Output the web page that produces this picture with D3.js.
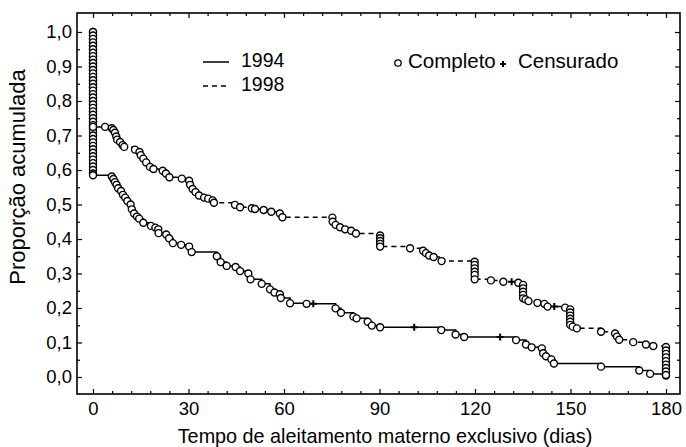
<html>
<head>
<meta charset="utf-8">
<script src="https://d3js.org/d3.v7.min.js"></script>
<style>
  body { margin: 0; background: #fff; }
  text { font-family: "Liberation Sans", Arial, sans-serif; fill: #000; }
</style>
</head>
<body>
<svg class="chart" width="686" height="447"></svg>
<script>
// ticks
var xTicks = [0, 30, 60, 90, 120, 150, 180];
var xMinor = [6, 12, 18, 24, 36, 42, 48, 54, 66, 72, 78, 84, 96, 102, 108, 114, 126, 132, 138, 144, 156, 162, 168, 174];
var yTicks = [0, 0.1, 0.2, 0.3, 0.4, 0.5, 0.6, 0.7, 0.8, 0.9, 1.0];
var yMinor = [0.05, 0.15, 0.25, 0.35, 0.45, 0.55, 0.65, 0.75, 0.85, 0.95];

// 1994 - stack of events at day 0
var zero94 = [1.00, 0.99, 0.98, 0.97, 0.96, 0.95, 0.94, 0.93, 0.92, 0.91, 0.90, 0.89, 0.88, 0.87,
  0.86, 0.85, 0.84, 0.83, 0.82, 0.81, 0.80, 0.79, 0.78, 0.77, 0.76, 0.75, 0.74, 0.73, 0.72, 0.71,
  0.70, 0.69, 0.68, 0.67, 0.66, 0.65, 0.64, 0.63, 0.62, 0.61, 0.60, 0.59, 0.585];
var tempo94 = [5.9, 6.4, 6.9, 7.4, 7.9, 8.8, 9.4, 10.1, 10.8, 11.8, 12.2, 12.9, 13.8, 14.5, 15.8,
  18.2, 19.6, 20.5, 20.6, 23.0, 23.9, 25.1, 27.7, 30.2, 31.0, 38.9, 40.1, 42.0, 44.8, 46.2,
  48.8, 49.5, 53.0, 55.6, 57.0, 58.7, 59.0, 61.9, 67.1, 69.2, 76.2, 77.9, 81.8, 82.8, 86.3,
  87.6, 90.2, 100.9, 109.4, 113.9, 116.6, 127.9, 132.9, 136.0, 137.8, 141.0, 141.4, 142.3,
  144.0, 144.8, 159.6, 171.6, 175.0, 180];
var prop94 = [0.581, 0.574, 0.565, 0.557, 0.547, 0.539, 0.528, 0.520, 0.510, 0.500, 0.486, 0.474, 0.465, 0.459, 0.447,
  0.438, 0.433, 0.428, 0.417, 0.413, 0.402, 0.388, 0.383, 0.378, 0.362, 0.350, 0.333, 0.322, 0.319, 0.307,
  0.300, 0.283, 0.270, 0.254, 0.245, 0.240, 0.229, 0.214, 0.212, 0.212, 0.199, 0.186, 0.175, 0.170, 0.160,
  0.149, 0.144, 0.144, 0.136, 0.123, 0.116, 0.116, 0.107, 0.094, 0.086, 0.083, 0.069, 0.060,
  0.051, 0.039, 0.030, 0.019, 0.009, 0.004];
var cens94 = [69.2, 100.9, 127.9];

// 1998
var zero98 = [1.00, 0.99, 0.98, 0.97, 0.96, 0.95, 0.94, 0.93, 0.92, 0.91, 0.90, 0.89, 0.88, 0.87,
  0.86, 0.85, 0.84, 0.83, 0.82, 0.81, 0.80, 0.79, 0.78, 0.77, 0.76, 0.75, 0.74, 0.73, 0.725];
var tempo98 = [3.8, 5.9, 6.4, 6.9, 7.3, 7.6, 8.5, 9.3, 9.8, 13.2, 14.6, 15.0, 15.8, 16.7, 17.9,
  19.0, 21.9, 22.9, 24.0, 27.9, 30.2, 30.5, 31.3, 32.2, 33.3, 34.9, 36.2, 37.6, 38.0, 44.6,
  46.2, 49.9, 50.9, 53.6, 56.0, 58.7, 59.5, 75.2, 75.3, 76.2, 77.6, 79.2, 81.1, 82.6,
  90.2, 90.2, 90.2, 90.2, 90.2, 99.6, 103.7, 104.6, 105.6, 107.0, 109.5,
  119.9, 119.9, 119.9, 119.9, 119.9, 119.9, 125.0, 128.9, 131.5, 133.6,
  135.1, 135.1, 135.1, 135.1, 135.1, 135.9, 136.8, 139.6, 141.8, 142.8, 144.9, 148.3,
  149.9, 149.9, 149.9, 149.9, 149.9, 149.9, 150.7, 152.0, 159.6, 164.0, 164.6, 165.3,
  169.7, 173.7, 176.0, 180, 180, 180, 180, 180, 180, 180, 180, 180];
var prop98 = [0.725, 0.721, 0.716, 0.708, 0.697, 0.688, 0.681, 0.672, 0.667, 0.659, 0.652, 0.643, 0.633, 0.622, 0.609,
  0.603, 0.598, 0.590, 0.579, 0.575, 0.569, 0.557, 0.545, 0.536, 0.526, 0.520, 0.517, 0.512, 0.505, 0.499,
  0.492, 0.489, 0.487, 0.484, 0.479, 0.474, 0.463, 0.462, 0.450, 0.441, 0.434, 0.428, 0.424, 0.416,
  0.410, 0.402, 0.394, 0.386, 0.378, 0.373, 0.366, 0.359, 0.352, 0.348, 0.336,
  0.334, 0.325, 0.315, 0.305, 0.296, 0.283, 0.280, 0.276, 0.276, 0.273,
  0.267, 0.257, 0.247, 0.238, 0.228, 0.225, 0.220, 0.215, 0.212, 0.204, 0.204, 0.201,
  0.196, 0.187, 0.178, 0.169, 0.160, 0.151, 0.146, 0.141, 0.131, 0.126, 0.117, 0.108,
  0.101, 0.094, 0.090, 0.087, 0.077, 0.067, 0.057, 0.046, 0.036, 0.026, 0.016, 0.006];
var cens98 = [131.5, 144.9];

var box = {left: 77, right: 680, top: 13, bottom: 394};
var x = d3.scaleLinear().domain([0, 180]).range([93, 666]);
var y = d3.scaleLinear().domain([0, 1]).range([377, 32]);
var fmt = function(d) { return d3.format(".1f")(d).replace(".", ","); };

var svg = d3.select(".chart");

function build(zero, tempo, prop, cens) {
  var pts = zero.map(function(p) { return {t: 0, p: p, c: false}; });
  tempo.forEach(function(t, i) {
    pts.push({t: t, p: prop[i], c: cens.indexOf(t) >= 0});
  });
  return pts;
}
var s94 = build(zero94, tempo94, prop94, cens94);
var s98 = build(zero98, tempo98, prop98, cens98);

// axes (ticks inside on all four sides)
function ax(axis, tx, ty, vals, size, labels, pad) {
  var g = svg.append("g").attr("transform", "translate(" + tx + "," + ty + ")")
    .call(axis.tickValues(vals).tickSize(-size).tickPadding(pad || 0)
      .tickFormat(labels ? labels : function() { return ""; }));
  g.select(".domain").remove();
  g.selectAll("line").attr("stroke", "#000").attr("stroke-width", 1.2);
  g.selectAll("text").style("font-size", "18.5px").attr("fill", "#000");
  return g;
}
ax(d3.axisBottom(x), 0, box.bottom, xTicks, 5, d3.format("d"), 8);
ax(d3.axisBottom(x), 0, box.bottom, xMinor, 3, null);
ax(d3.axisTop(x), 0, box.top, xTicks, 5, null);
ax(d3.axisTop(x), 0, box.top, xMinor, 3, null);
ax(d3.axisLeft(y), box.left, 0, yTicks, 5, fmt, 5);
ax(d3.axisLeft(y), box.left, 0, yMinor, 3, null);
ax(d3.axisRight(y), box.right, 0, yTicks, 5, null);
ax(d3.axisRight(y), box.right, 0, yMinor, 3, null);

svg.append("rect")
  .attr("x", box.left).attr("y", box.top)
  .attr("width", box.right - box.left).attr("height", box.bottom - box.top)
  .attr("fill", "none").attr("stroke", "#000").attr("stroke-width", 1.6);

// step lines
var line = d3.line().curve(d3.curveStepAfter)
  .x(function(d) { return x(d.t); })
  .y(function(d) { return y(d.p); });

svg.append("path").datum(s94)
  .attr("fill", "none").attr("stroke", "#000").attr("stroke-width", 1.5)
  .attr("d", line);
svg.append("path").datum(s98)
  .attr("fill", "none").attr("stroke", "#000").attr("stroke-width", 1.5)
  .attr("stroke-dasharray", "5,4")
  .attr("d", line);

function marks(pts) {
  svg.append("g").selectAll("circle")
    .data(pts.filter(function(d) { return !d.c; })).enter()
    .append("circle")
      .attr("cx", function(d) { return x(d.t); })
      .attr("cy", function(d) { return y(d.p); })
      .attr("r", 3.5)
      .attr("fill", "#fff").attr("stroke", "#000").attr("stroke-width", 1.4);
  svg.append("g").selectAll("path")
    .data(pts.filter(function(d) { return d.c; })).enter()
    .append("path")
      .attr("transform", function(d) { return "translate(" + x(d.t) + "," + y(d.p) + ")"; })
      .attr("d", "M-3.5,0H3.5M0,-3.5V3.5")
      .attr("stroke", "#000").attr("stroke-width", 2);
}
marks(s94);
marks(s98);

// axis titles
svg.append("text").attr("x", 385).attr("y", 443).attr("text-anchor", "middle")
  .style("font-size", "19.8px").text("Tempo de aleitamento materno exclusivo (dias)");
svg.append("text").attr("transform", "translate(25,177) rotate(-90)").attr("text-anchor", "middle")
  .style("font-size", "22px").text("Proporção acumulada");

// legend
var lg = svg.append("g");
lg.append("line").attr("x1", 203).attr("x2", 229).attr("y1", 62).attr("y2", 62)
  .attr("stroke", "#000").attr("stroke-width", 1.5);
lg.append("text").attr("x", 241).attr("y", 67).style("font-size", "19.5px").text("1994");
lg.append("line").attr("x1", 203).attr("x2", 229).attr("y1", 86).attr("y2", 86)
  .attr("stroke", "#000").attr("stroke-width", 1.5).attr("stroke-dasharray", "5,4");
lg.append("text").attr("x", 241).attr("y", 91).style("font-size", "19.5px").text("1998");
lg.append("circle").attr("cx", 398).attr("cy", 63).attr("r", 3.2)
  .attr("fill", "#fff").attr("stroke", "#000").attr("stroke-width", 1.3);
lg.append("text").attr("x", 408).attr("y", 68).style("font-size", "20.5px").text("Completo");
lg.append("path").attr("transform", "translate(503,64)").attr("d", "M-3,0H3M0,-3V3")
  .attr("stroke", "#000").attr("stroke-width", 2);
lg.append("text").attr("x", 518).attr("y", 68).style("font-size", "20.5px").text("Censurado");
</script>
</body>
</html>
